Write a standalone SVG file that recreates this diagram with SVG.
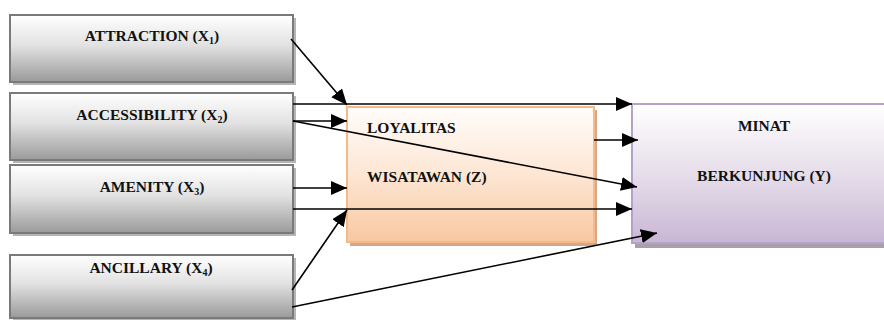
<svg xmlns="http://www.w3.org/2000/svg" width="884" height="320" viewBox="0 0 884 320">
<defs>
<linearGradient id="gGray" x1="0" y1="0" x2="0" y2="1">
<stop offset="0" stop-color="#ffffff"/>
<stop offset="0.45" stop-color="#e2e2e2"/>
<stop offset="1" stop-color="#9a9a9a"/>
</linearGradient>
<linearGradient id="gPeach" x1="0" y1="0" x2="0" y2="1">
<stop offset="0" stop-color="#fffdfb"/>
<stop offset="0.5" stop-color="#fde6d3"/>
<stop offset="1" stop-color="#f8c8a2"/>
</linearGradient>
<linearGradient id="gPurple" x1="0" y1="0" x2="0" y2="1">
<stop offset="0" stop-color="#ffffff"/>
<stop offset="0.5" stop-color="#e6deea"/>
<stop offset="1" stop-color="#c8b6d4"/>
</linearGradient>
<marker id="arr" markerUnits="userSpaceOnUse" markerWidth="18" markerHeight="15" refX="16" refY="7" orient="auto">
<path d="M0,0 L16,7 L0,14 z" fill="#000"/>
</marker>
</defs>
<style>
.gray{fill:url(#gGray);stroke:#7a7a7a;stroke-width:2}
.gshadow{fill:#b5b5b5}
.peach{fill:url(#gPeach);stroke:#f6b98a;stroke-width:2}
.pshadow{fill:#d6a888}
.purple{fill:url(#gPurple);stroke:#b3a2c9;stroke-width:2}
.ushadow{fill:#a99fab}
text{font-family:"Liberation Serif","DejaVu Serif",serif;font-weight:bold;font-size:15.5px;fill:#111}
.c{text-anchor:middle}
.con line{stroke:#000;stroke-width:1.6;marker-end:url(#arr)}
</style>

<g id="x1">
<rect class="gshadow" x="13" y="18" width="283" height="67"/>
<rect class="gray" x="10" y="15" width="283" height="67"/>
<text class="c" x="152" y="41" font-family="Liberation Serif, serif">ATTRACTION (X<tspan font-size="10" dy="3">1</tspan><tspan dy="-3">)</tspan></text>
</g>
<g id="x2">
<rect class="gshadow" x="13" y="96" width="283" height="67"/>
<rect class="gray" x="10" y="93" width="283" height="67"/>
<text class="c" x="152" y="120" font-family="Liberation Serif, serif">ACCESSIBILITY (X<tspan font-size="10" dy="3">2</tspan><tspan dy="-3">)</tspan></text>
</g>
<g id="x3">
<rect class="gshadow" x="13" y="168" width="283" height="68"/>
<rect class="gray" x="10" y="165" width="283" height="68"/>
<text class="c" x="152" y="192" font-family="Liberation Serif, serif">AMENITY (X<tspan font-size="10" dy="3">3</tspan><tspan dy="-3">)</tspan></text>
</g>
<g id="x4">
<rect class="gshadow" x="13" y="258" width="283" height="64"/>
<rect class="gray" x="10" y="255" width="283" height="63"/>
<text class="c" x="151" y="273" font-family="Liberation Serif, serif">ANCILLARY (X<tspan font-size="10" dy="3">4</tspan><tspan dy="-3">)</tspan></text>
</g>
<g id="z">
<rect class="pshadow" x="350" y="110" width="247" height="136"/>
<rect class="peach" x="347" y="107" width="247" height="135"/>
<text x="367" y="133" font-family="Liberation Serif, serif">LOYALITAS</text>
<text x="367" y="182" font-family="Liberation Serif, serif">WISATAWAN (Z)</text>
</g>
<g id="y">
<rect class="ushadow" x="635" y="107" width="260" height="141"/>
<rect class="purple" x="632" y="104" width="260" height="139"/>
<text class="c" x="764" y="131" font-family="Liberation Serif, serif">MINAT</text>
<text class="c" x="764" y="181" font-family="Liberation Serif, serif">BERKUNJUNG (Y)</text>
</g>

<g id="connectors" class="con">
<line x1="291" y1="39" x2="347" y2="105"/>
<line x1="293" y1="104" x2="632" y2="104"/>
<line x1="293" y1="121" x2="347" y2="121"/>
<line x1="293" y1="121" x2="637" y2="187"/>
<line x1="293" y1="188" x2="347" y2="188"/>
<line x1="293" y1="209" x2="632" y2="209"/>
<line x1="292" y1="290" x2="347" y2="210"/>
<line x1="292" y1="307" x2="657" y2="233"/>
<line x1="594" y1="140" x2="638" y2="140"/>
</g>
</svg>
